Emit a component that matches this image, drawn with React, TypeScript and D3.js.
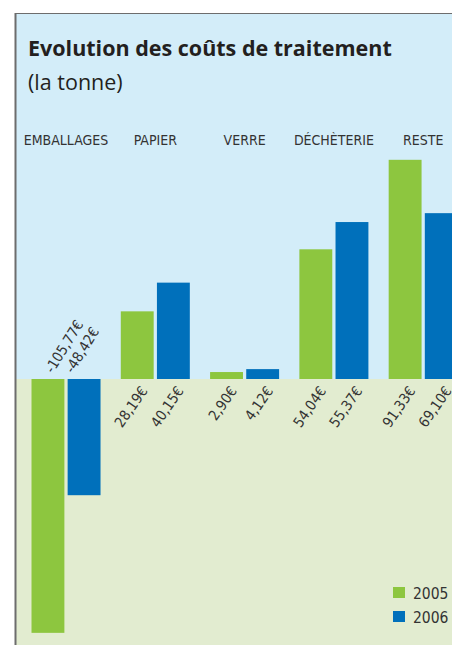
import { FC, useEffect, useRef } from 'react';
import * as d3 from 'd3';

const categories = ['EMBALLAGES', 'PAPIER', 'VERRE', 'DÉCHÈTERIE', 'RESTE'];
const years = ['2005', '2006'];
// bar heights as drawn in the picture (€ per tonne)
const values2005 = [-105.77, 28.19, 2.9, 54.04, 91.33];
const values2006 = [-48.42, 40.15, 4.12, 65.4, 69.1];
// printed labels
const labels2005 = ['-105,77€', '28,19€', '2,90€', '54,04€', '91,33€'];
const labels2006 = ['-48,42€', '40,15€', '4,12€', '55,37€', '69,10€'];
const title = 'Evolution des coûts de traitement';
const subtitle = '(la tonne)';

const WIDTH = 452;
const HEIGHT = 645;
const COLORS = ['#8dc63f', '#0070bb'];
const NARROW = '"Liberation Sans Narrow", "DejaVu Sans Condensed", sans-serif';

const App: FC = () => {
  const ref = useRef<SVGSVGElement>(null);

  useEffect(() => {
    const svg = d3.select(ref.current);
    svg.selectAll('*').remove();

    const data = categories.map((c, i) => ({
      category: c,
      values: [values2005[i], values2006[i]],
      labels: [labels2005[i], labels2006[i]],
    }));

    // scales
    const x0 = d3.scaleBand().domain(categories).range([31.5, 457.7]).paddingInner(0.227);
    const x1 = d3.scaleBand().domain(years).range([0, x0.bandwidth()]).paddingInner(0.09);
    const y = d3.scaleLinear().domain([0, 100]).range([379, 139]);

    // background panels
    svg.append('rect').attr('x', 15).attr('y', 13).attr('width', WIDTH).attr('height', y(0) - 13).attr('fill', '#d3edf9');
    svg.append('rect').attr('x', 15).attr('y', y(0)).attr('width', WIDTH).attr('height', HEIGHT).attr('fill', '#e2ecd0');
    svg.append('line').attr('x1', 15).attr('x2', WIDTH).attr('y1', 13.5).attr('y2', 13.5).attr('stroke', '#6d6d6d').attr('stroke-width', 1.2);
    svg.append('line').attr('x1', 15.5).attr('x2', 15.5).attr('y1', 13).attr('y2', HEIGHT).attr('stroke', '#6d6d6d').attr('stroke-width', 2);

    // titles
    svg.append('text').attr('x', 28).attr('y', 56).attr('font-family', '"Open Sans", sans-serif')
      .attr('font-weight', 700).attr('font-size', 21.5).attr('fill', '#231f20').text(title);
    svg.append('text').attr('x', 28).attr('y', 90).attr('font-family', '"Open Sans", sans-serif')
      .attr('font-size', 21.5).attr('fill', '#231f20').text(subtitle);

    // category labels
    svg.append('g').selectAll('text').data(categories).join('text')
      .attr('x', (d) => (x0(d) ?? 0) + x0.bandwidth() / 2)
      .attr('y', 145)
      .attr('text-anchor', 'middle')
      .attr('font-family', NARROW)
      .attr('font-size', 14)
      .attr('fill', '#333')
      .text((d) => d);

    // bars
    const groups = svg.append('g').selectAll('g').data(data).join('g')
      .attr('transform', (d) => `translate(${x0(d.category)},0)`);

    const items = (d: typeof data[0]) => d.values.map((v, i) => ({ year: years[i], value: v, label: d.labels[i], i }));

    groups.selectAll('rect').data(items)
      .join('rect')
      .attr('x', (d) => x1(d.year) ?? 0)
      .attr('width', x1.bandwidth())
      .attr('y', (d) => Math.min(y(d.value), y(0)))
      .attr('height', (d) => Math.abs(y(d.value) - y(0)))
      .attr('fill', (d) => COLORS[d.i]);

    // value labels
    groups.selectAll('text').data(items)
      .join('text')
      .attr('transform', (d) => {
        const cx = (x1(d.year) ?? 0) + x1.bandwidth() / 2;
        if (d.value < 0) {
          const dx = d.i === 0 ? 5 : -11;
          return `translate(${cx + dx},${y(0) - 5}) rotate(-58)`;
        }
        return `translate(${cx + 11},${y(0) + 12}) rotate(-55)`;
      })
      .attr('text-anchor', (d) => (d.value < 0 ? 'start' : 'end'))
      .attr('font-family', NARROW)
      .attr('font-size', 14.5)
      .attr('fill', '#333')
      .text((d) => d.label);

    // legend
    const legend = svg.append('g').selectAll('g').data(years).join('g')
      .attr('transform', (d, i) => `translate(393,${587 + i * 24})`);
    legend.append('rect').attr('width', 12).attr('height', 11).attr('fill', (d, i) => COLORS[i]);
    legend.append('text').attr('x', 20).attr('y', 11.5).attr('font-family', NARROW)
      .attr('font-size', 15.5).attr('fill', '#333').text((d) => d);
  }, []);

  return (
    <div style={{ position: 'absolute', left: 0, top: 0 }}>
      <svg ref={ref} width={WIDTH} height={HEIGHT} style={{ display: 'block', background: '#fff' }} />
    </div>
  );
};

export default App;
